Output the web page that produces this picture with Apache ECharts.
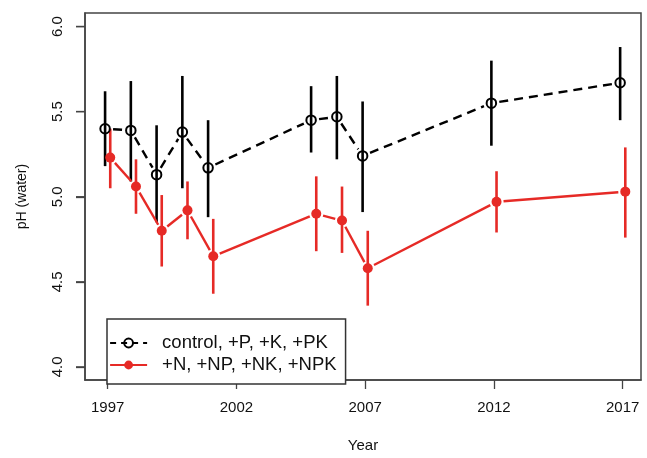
<!DOCTYPE html>
<html>
<head>
<meta charset="utf-8">
<script src="https://cdn.jsdelivr.net/npm/echarts@6/dist/echarts.min.js"></script>
<style>
  html, body { margin: 0; padding: 0; background: #fff; }
  #chart { width: 647px; height: 458px; }
</style>
</head>
<body>
<div id="chart"></div>
<script>
const years = [1997, 1998, 1999, 2000, 2001, 2005, 2006, 2007, 2012, 2017];
const xTicks = [1997, 2002, 2007, 2012, 2017];
const yTicks = [4.0, 4.5, 5.0, 5.5, 6.0];

const controlMean = [5.40, 5.39, 5.13, 5.38, 5.17, 5.45, 5.47, 5.24, 5.55, 5.67];
const controlLow = [5.18, 5.09, 4.85, 5.05, 4.88, 5.26, 5.22, 4.91, 5.30, 5.45];
const controlHigh = [5.62, 5.68, 5.42, 5.71, 5.45, 5.65, 5.71, 5.56, 5.80, 5.88];

const nMean = [5.23, 5.06, 4.80, 4.92, 4.65, 4.90, 4.86, 4.58, 4.97, 5.03];
const nLow = [5.05, 4.90, 4.59, 4.75, 4.43, 4.68, 4.67, 4.36, 4.79, 4.76];
const nHigh = [5.40, 5.22, 5.01, 5.09, 4.87, 5.12, 5.06, 4.80, 5.15, 5.29];

const FONT = 'Liberation Sans, Arial, Helvetica, sans-serif';
const BLACK = '#000';
const RED = '#e62a26';
const AXIS = '#444';

// small horizontal dodge so the two groups don't overlap
const dodge = (off) => years.map(y => y + off);

const errData = (xs, lo, hi) => xs.map((x, i) => [x, lo[i], hi[i]]);
const segData = (xs, ys) => xs.slice(0, -1).map((x, i) => [x, ys[i], xs[i + 1], ys[i + 1]]);

const errorBars = (name, data, color) => ({
    name: name + '-err',
    type: 'custom',
    data: data,
    encode: { x: 0, y: [1, 2] },
    z: 2,
    silent: true,
    renderItem: (params, api) => {
        const p1 = api.coord([api.value(0), api.value(1)]);
        const p2 = api.coord([api.value(0), api.value(2)]);
        return {
            type: 'line',
            shape: { x1: p1[0], y1: p1[1], x2: p2[0], y2: p2[1] },
            style: { stroke: color, lineWidth: 2.6 }
        };
    }
});

// R type="b": segments stop short of the points
const gapLines = (name, data, color, dash, gap) => ({
    name: name + '-seg',
    type: 'custom',
    data: data,
    encode: { x: [0, 2], y: [1, 3] },
    z: 3,
    silent: true,
    renderItem: (params, api) => {
        const a = api.coord([api.value(0), api.value(1)]);
        const b = api.coord([api.value(2), api.value(3)]);
        const dx = b[0] - a[0], dy = b[1] - a[1];
        const len = Math.sqrt(dx * dx + dy * dy);
        if (len <= gap * 2) return null;
        const ux = dx / len, uy = dy / len;
        return {
            type: 'line',
            shape: {
                x1: a[0] + ux * gap, y1: a[1] + uy * gap,
                x2: b[0] - ux * gap, y2: b[1] - uy * gap
            },
            style: { stroke: color, lineWidth: 2.4, lineDash: dash }
        };
    }
});

const xBlack = dodge(-0.1);
const xRed = dodge(0.1);

const chart = echarts.init(document.getElementById('chart'));

const tickStyle = { color: AXIS, width: 1.3 };

const option = {
    animation: false,
    textStyle: { fontFamily: FONT },
    grid: {
        left: 85, right: 6, top: 13, bottom: 74,
        show: true,
        borderColor: AXIS,
        borderWidth: 1.5
    },
    legend: {
        left: 107,
        top: 319,
        orient: 'vertical',
        itemWidth: 37,
        itemHeight: 11,
        itemGap: 0,
        padding: [13, 9, 8, 2],
        borderColor: '#333',
        borderWidth: 1.5,
        backgroundColor: '#fff',
        textStyle: { fontSize: 18.5, color: '#111', lineHeight: 22, padding: [0, 0, 0, 10] },
        data: [
            { name: 'control, +P, +K, +PK', lineStyle: { color: BLACK, width: 2.2, type: [6, 5], opacity: 1 } },
            { name: '+N, +NP, +NK, +NPK', lineStyle: { color: RED, width: 2.2, opacity: 1 } }
        ]
    },
    xAxis: {
        type: 'value',
        min: 1996.12,
        max: 2017.71,
        name: 'Year',
        nameLocation: 'middle',
        nameGap: 58,
        nameTextStyle: { fontSize: 15, color: '#111' },
        axisLine: { show: true, lineStyle: { color: AXIS, width: 1.5 } },
        splitLine: { show: false },
        axisTick: { show: true, length: 9, customValues: xTicks, lineStyle: tickStyle },
        axisLabel: {
            customValues: xTicks,
            fontSize: 15,
            color: '#111',
            margin: 20,
            formatter: (v) => String(v)
        }
    },
    yAxis: {
        type: 'value',
        min: 3.923,
        max: 6.08,
        name: 'pH (water)',
        nameLocation: 'middle',
        nameGap: 56,
        nameTextStyle: { fontSize: 14, color: '#111' },
        axisLine: { show: true, onZero: false, lineStyle: { color: AXIS, width: 1.5 } },
        splitLine: { show: false },
        axisTick: { show: true, length: 9, customValues: yTicks, lineStyle: tickStyle },
        axisLabel: {
            customValues: yTicks,
            rotate: 90,
            fontSize: 15,
            color: '#111',
            margin: 20,
            formatter: (v) => v.toFixed(1)
        }
    },
    series: [
        {
            // outward y tick marks, as thin filled rects (never zero-height)
            name: 'y-ticks',
            type: 'custom',
            data: yTicks.map(v => [1996.12, v]),
            encode: { x: 0, y: 1 },
            clip: false,
            silent: true,
            z: 100,
            renderItem: (params, api) => {
                const p = api.coord([api.value(0), api.value(1)]);
                return {
                    type: 'rect',
                    shape: { x: p[0] - 9, y: p[1] - 0.7, width: 9, height: 1.4 },
                    style: { fill: AXIS }
                };
            }
        },
        errorBars('control', errData(xBlack, controlLow, controlHigh), BLACK),
        errorBars('n', errData(xRed, nLow, nHigh), RED),
        gapLines('control', segData(xBlack, controlMean), BLACK, [9, 6], 8),
        gapLines('n', segData(xRed, nMean), RED, null, 7),
        {
            name: 'control, +P, +K, +PK',
            type: 'line',
            data: xBlack.map((x, i) => [x, controlMean[i]]),
            symbol: 'circle',
            symbolSize: 9.5,
            z: 4,
            lineStyle: { opacity: 0 },
            itemStyle: { color: 'rgba(255,255,255,0)', borderColor: BLACK, borderWidth: 2 }
        },
        {
            name: '+N, +NP, +NK, +NPK',
            type: 'line',
            data: xRed.map((x, i) => [x, nMean[i]]),
            symbol: 'circle',
            symbolSize: 10,
            z: 4,
            lineStyle: { opacity: 0 },
            itemStyle: { color: RED }
        }
    ]
};

chart.setOption(option);
</script>
</body>
</html>
